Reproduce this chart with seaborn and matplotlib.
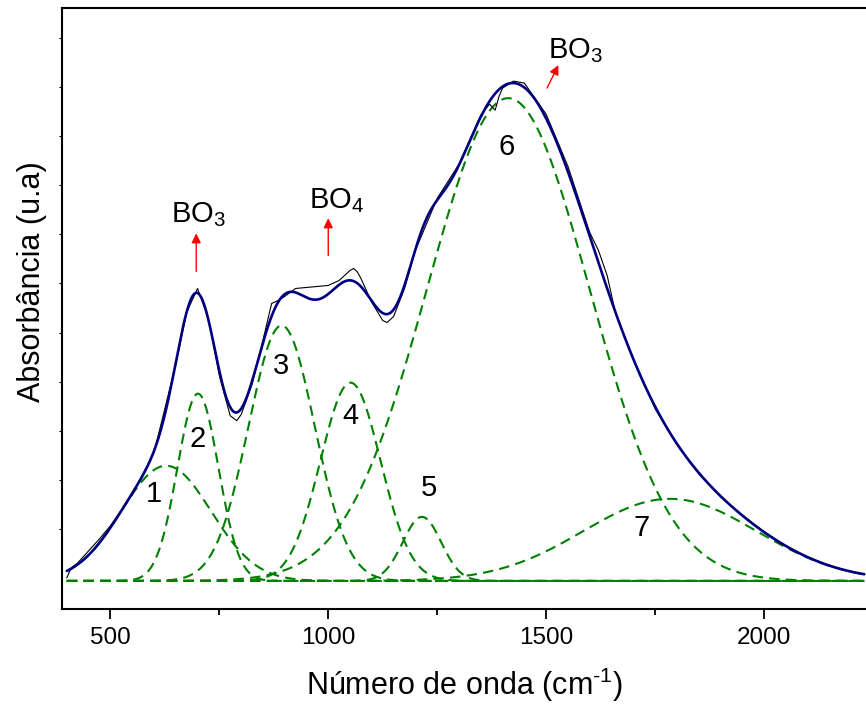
import numpy as np
import pandas as pd
import matplotlib
matplotlib.use("Agg")
import matplotlib.pyplot as plt
import seaborn as sns

# deconvolution bands: centre (cm-1), sigma (cm-1), height (a.u.)
band_labels = ["1", "2", "3", "4", "5", "6", "7"]
band_centers = [628, 701, 893, 1051, 1215, 1413, 1784]
band_sigmas = [103, 47, 76, 69, 44, 186, 199]
band_heights = [115, 187, 255, 198, 64, 482, 82]

# position of the band numbers
label_x = [600, 701, 891, 1051, 1230, 1410, 1719]
label_y = [87, 142, 215, 165, 93, 433, 53]

exp_wavenumber = [400, 410, 425, 450, 475, 500, 550, 600, 650, 675, 700, 725, 750,
                  775, 790, 800, 825, 850, 870, 885, 900, 925, 950, 975, 1000,
                  1025, 1040, 1050, 1058, 1066, 1075, 1100, 1125, 1135, 1150,
                  1175, 1200, 1250, 1300, 1350, 1370, 1383, 1392, 1400, 1425,
                  1450, 1500, 1550, 1600, 1620, 1640, 1660, 1700, 1750, 1800,
                  1850, 1900, 1950, 2000, 2050, 2100, 2150, 2200, 2230]
exp_absorbance = [3, 13, 18, 30, 42, 55, 86, 128, 216, 268, 292, 262, 205,
                  165, 160, 166, 196, 240, 277, 280, 284, 292, 293, 294, 295,
                  300, 306, 310, 312, 309, 302, 278, 260, 258, 264,
                  292, 330, 382, 416, 465, 476, 470, 484, 492, 499,
                  497, 466, 414, 348, 330, 305, 266, 222, 172, 136,
                  107, 84, 66, 49, 35, 24, 15, 9, 7]

# band assignments with arrows
assign_text = [r"$\mathregular{BO_3}$", r"$\mathregular{BO_4}$", r"$\mathregular{BO_3}$"]
assign_text_xy = [(703, 351), (1020, 365), (1504, 515)]
arrow_tail = [(697, 309), (1000, 325), (1502, 492)]
arrow_head = [(697, 347), (1000, 362), (1528, 515)]

sns.set_style("ticks")
plt.rcParams["font.family"] = ["Liberation Sans", "DejaVu Sans"]
plt.rcParams["mathtext.fontset"] = "custom"
plt.rcParams["mathtext.rm"] = "Liberation Sans"
plt.rcParams["axes.unicode_minus"] = False
for key in ["text.color", "axes.labelcolor", "xtick.color", "ytick.color", "axes.edgecolor"]:
    plt.rcParams[key] = "black"

wn = np.linspace(400, 2230, 900)
comps = []
for lab, c, s, h in zip(band_labels, band_centers, band_sigmas, band_heights):
    comps.append(h * np.exp(-(wn - c) ** 2 / (2 * s ** 2)))
fit = np.sum(comps, axis=0)

fig = plt.figure(figsize=(8.66, 7.06), dpi=100)
ax = fig.add_axes([62 / 866, 97 / 706, 804 / 866, 601 / 706])

for comp in comps:
    sns.lineplot(x=wn, y=comp, ax=ax, color="#008000", lw=1.5,
                 dashes=False, linestyle=(0, (5, 3)))

sns.lineplot(x=exp_wavenumber, y=exp_absorbance, ax=ax, color="black", lw=0.8,
             sort=False)
sns.lineplot(x=wn, y=fit, ax=ax, color="#000080", lw=1.9)

for lab, x, y in zip(band_labels, label_x, label_y):
    ax.text(x, y, lab, fontsize=21, ha="center", va="center")

for txt, txy, tail, head in zip(assign_text, assign_text_xy, arrow_tail, arrow_head):
    ax.annotate("", xy=head, xytext=tail,
                arrowprops=dict(arrowstyle="-|>", color="red", lw=1.0,
                                mutation_scale=14, shrinkA=0, shrinkB=0))
    ax.text(txy[0], txy[1], txt, fontsize=21,
            ha="left" if txy[0] > 1400 else "center", va="bottom")

ax.set_xlim(389, 2234)
ax.set_ylim(-28, 572)
ax.set_xticks([500, 1000, 1500, 2000])
ax.set_xticks([750, 1250, 1750], minor=True)
ax.set_yticks(np.arange(52, 572, 49))
ax.set_yticklabels([])
ax.tick_params(axis="x", which="major", direction="out", length=7, width=1.3,
               labelsize=17.5, pad=6)
ax.tick_params(axis="x", which="minor", direction="out", length=4, width=1.3)
ax.tick_params(axis="y", direction="out", length=2, width=0.8)
for sp in ["left", "bottom", "top"]:
    ax.spines[sp].set_linewidth(1.5)
ax.spines["right"].set_visible(False)

ax.set_xlabel(r"Número de onda (cm$\mathregular{^{\text{-}1}}$)", fontsize=22, labelpad=12)
ax.set_ylabel("Absorbância (u.a)", fontsize=22)
ax.yaxis.set_label_coords(-0.019, 0.544)

fig.savefig("out.png", dpi=100)
